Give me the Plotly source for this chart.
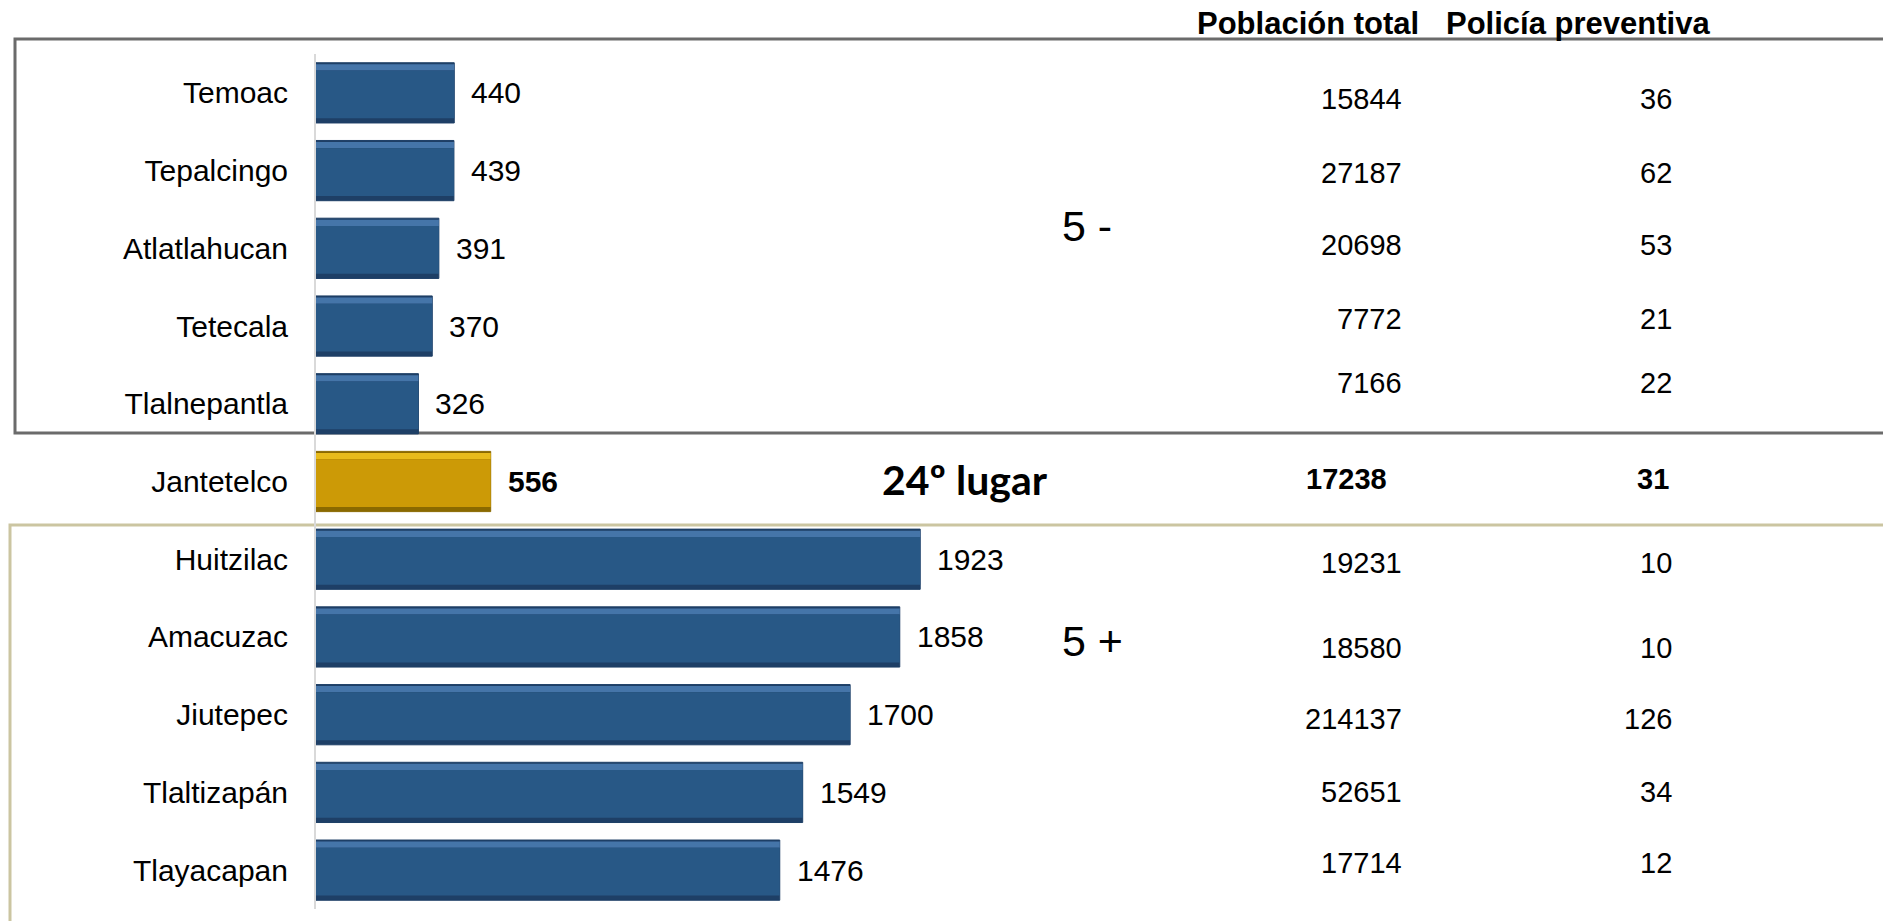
import plotly.graph_objects as go

# ---------------- data ----------------
municipios = ["Temoac", "Tepalcingo", "Atlatlahucan", "Tetecala", "Tlalnepantla",
              "Jantetelco",
              "Huitzilac", "Amacuzac", "Jiutepec", "Tlaltizapán", "Tlayacapan"]
habitantes_por_policia = [440, 439, 391, 370, 326, 556, 1923, 1858, 1700, 1549, 1476]
poblacion_total = [15844, 27187, 20698, 7772, 7166, 17238, 19231, 18580, 214137, 52651, 17714]
policia_preventiva = [36, 62, 53, 21, 22, 31, 10, 10, 126, 34, 12]
destacado = "Jantetelco"
texto_lugar = "24º lugar"
texto_menos = "5 -"
texto_mas = "5 +"
encabezado_pob = "Población total"
encabezado_pol = "Policía preventiva"

# ---------------- layout helpers (pixels) ----------------
W, H = 1883, 921
L, R, T, B = 316, 0, 54, 12
PW, PH = W - L - R, H - T - B
PX_PER_UNIT = 0.3142
XMAX = PW / PX_PER_UNIT


def px(x):
    return (x - L) / PW


def py(y):
    return (H - B - y) / PH


FONT = "Liberation Sans, Arial, sans-serif"
is_hi = [m == destacado for m in municipios]
c_main = ["#cc9a06" if h else "#285886" for h in is_hi]
c_top = ["#e8bb1c" if h else "#4575a9" for h in is_hi]
c_dark = ["#8a6900" if h else "#1e3f66" for h in is_hi]

w = 0.775
fig = go.Figure()
fig.add_trace(go.Bar(y=municipios, x=habitantes_por_policia, orientation="h",
                     marker=dict(color=c_dark, line=dict(color=c_dark, width=1)),
                     offset=-w / 2, width=w, hoverinfo="skip"))
fig.add_trace(go.Bar(y=municipios, x=habitantes_por_policia, orientation="h",
                     marker=dict(color=c_top, line=dict(width=0)),
                     offset=-w / 2 + 0.02, width=0.08, hoverinfo="skip"))
fig.add_trace(go.Bar(y=municipios, x=habitantes_por_policia, orientation="h",
                     marker=dict(color=c_main, line=dict(width=0)),
                     offset=-w / 2 + 0.1, width=w - 0.16, hoverinfo="skip"))

ann = []
# value labels
for m, v, h in zip(municipios, habitantes_por_policia, is_hi):
    ann.append(dict(x=v, y=m, xref="x", yref="y", text=f"<b>{v}</b>" if h else str(v),
                    xanchor="left", yanchor="middle", xshift=15, showarrow=False,
                    font=dict(family=FONT, size=30, color="black")))

# table columns
row_shift = [-6, -2, 3, 7, 21, 3, -4, -11, -4, 0, 7]
for m, p, q, h, s in zip(municipios, poblacion_total, policia_preventiva, is_hi, row_shift):
    ann.append(dict(x=px(1404 - (15 if h else 0)), y=m, xref="paper", yref="y",
                    text=f"<b>{p}</b>" if h else str(p), xanchor="right", yanchor="middle",
                    yshift=s, showarrow=False,
                    font=dict(family=FONT, size=29, color="black")))
    ann.append(dict(x=px(1674 - (3 if h else 0)), y=m, xref="paper", yref="y",
                    text=f"<b>{q}</b>" if h else str(q), xanchor="right", yanchor="middle",
                    yshift=s, showarrow=False,
                    font=dict(family=FONT, size=29, color="black")))

# headers
ann.append(dict(x=px(1195), y=py(23), xref="paper", yref="paper", text=f"<b>{encabezado_pob}</b>",
                xanchor="left", yanchor="middle", showarrow=False,
                font=dict(family=FONT, size=31, color="black")))
ann.append(dict(x=px(1712), y=py(23), xref="paper", yref="paper", text=f"<b>{encabezado_pol}</b>",
                xanchor="right", yanchor="middle", showarrow=False,
                font=dict(family=FONT, size=31, color="black")))

# group labels
ann.append(dict(x=px(1060), y=py(226), xref="paper", yref="paper", text=texto_menos,
                xanchor="left", yanchor="middle", showarrow=False,
                font=dict(family=FONT, size=43, color="black")))
ann.append(dict(x=px(1060), y=py(641), xref="paper", yref="paper", text=texto_mas,
                xanchor="left", yanchor="middle", showarrow=False,
                font=dict(family=FONT, size=43, color="black")))
ann.append(dict(x=px(880), y=destacado, xref="paper", yref="y", text=f"<b>{texto_lugar}</b>",
                xanchor="left", yanchor="middle", yshift=2, showarrow=False,
                font=dict(family="Lato, Carlito, sans-serif", size=41, color="black")))

shapes = [
    dict(type="rect", xref="paper", yref="paper", x0=px(15), x1=px(1950), y0=py(433), y1=py(39),
         line=dict(color="#6b6b6b", width=3), fillcolor="rgba(0,0,0,0)", layer="below"),
    dict(type="rect", xref="paper", yref="paper", x0=px(10), x1=px(1950), y0=py(1000), y1=py(525),
         line=dict(color="#cbc5a1", width=3), fillcolor="rgba(0,0,0,0)", layer="below"),
]

fig.update_layout(
    width=W, height=H, margin=dict(l=L, r=R, t=T, b=B, autoexpand=False),
    paper_bgcolor="white", plot_bgcolor="rgba(0,0,0,0)",
    barmode="overlay", showlegend=False,
    annotations=ann, shapes=shapes,
    xaxis=dict(range=[0, XMAX], visible=False, fixedrange=True),
    yaxis=dict(type="category", categoryorder="array", categoryarray=municipios,
               autorange="reversed", showgrid=False, showline=True, linecolor="#d9d9d9",
               linewidth=2, ticks="", ticklabelstandoff=20,
               tickfont=dict(family=FONT, size=30, color="black"), fixedrange=True),
)

fig.write_html("out.html", config={"displayModeBar": False},
               post_script="document.body.style.margin='0';document.body.style.overflow='hidden';")
